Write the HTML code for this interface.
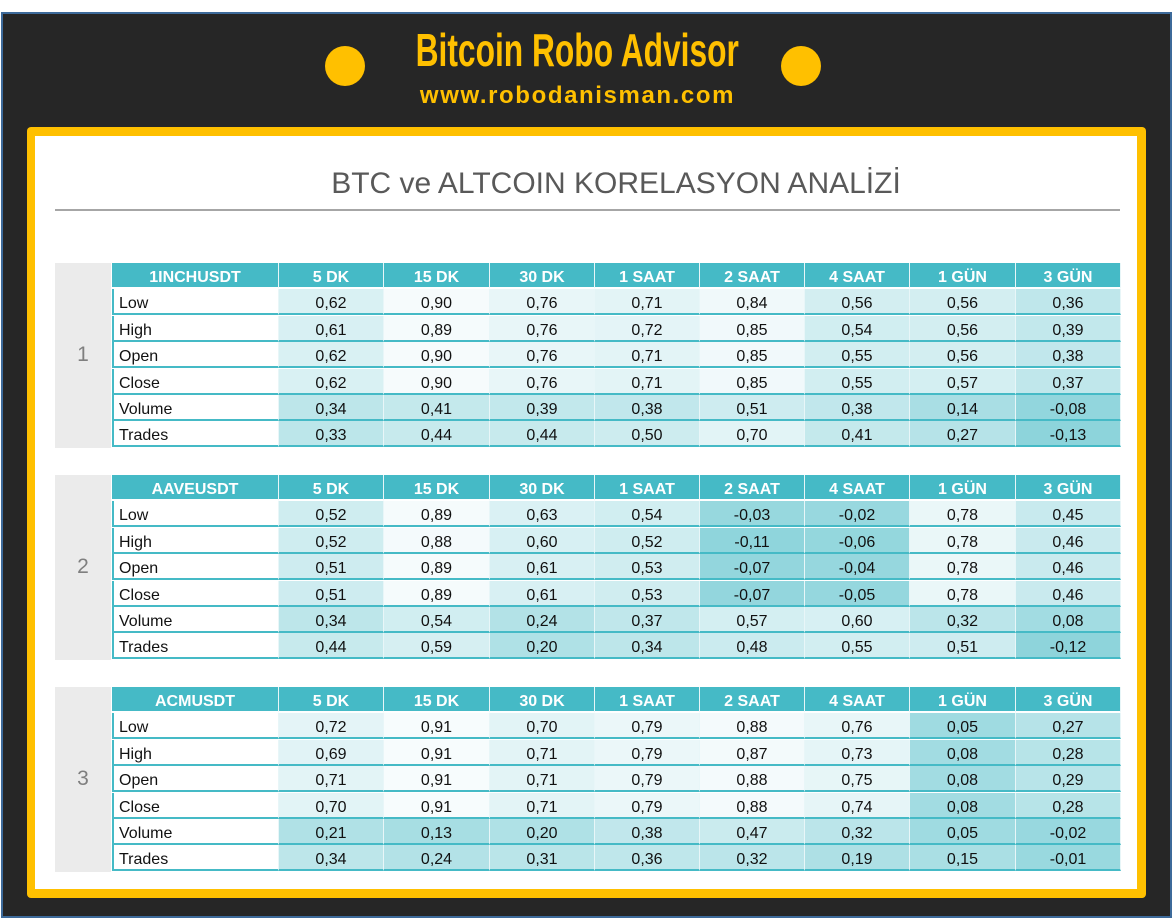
<!DOCTYPE html>
<html><head><meta charset="utf-8">
<style>
*{margin:0;padding:0;box-sizing:border-box}
body{width:1173px;height:919px;background:#fff;position:relative;overflow:hidden;font-family:"Liberation Sans",sans-serif}
#outer{position:absolute;left:1px;top:12px;width:1171px;height:906px;background:#262626;border:2px solid #3d6a9a}
.dot{position:absolute;width:40px;height:40px;border-radius:50%;background:#ffc000}
#brandwrap{position:absolute;left:0;width:1155px;top:24px;text-align:center}
#brand{display:inline-block;color:#ffc000;font-weight:bold;font-size:46px;line-height:52px;transform:scaleX(0.69);transform-origin:center}
#url{position:absolute;left:0;width:1155px;top:81px;text-align:center;color:#ffc000;font-weight:bold;font-size:24px;line-height:30px;letter-spacing:1.6px}
#frame{position:absolute;left:27px;top:127px;width:1119px;height:771px;background:#ffc000;border-radius:4px}
#panel{position:absolute;left:35px;top:136px;width:1102px;height:753px;background:#fff}
#title{position:absolute;left:71px;width:1090px;top:165px;text-align:center;font-size:30px;color:#595959;line-height:38px}
#rule{position:absolute;left:55px;top:209px;width:1065px;height:2px;background:#a6a6a6}
.idx{position:absolute;left:55px;width:56px;background:#ebebeb;color:#7f7f7f;font-size:21px;display:flex;align-items:center;justify-content:center}
.cell{position:absolute;height:26px;display:flex;align-items:center;justify-content:center;font-size:16px;color:#111;border-bottom:2px solid #45bac6;border-right:1px solid #e8f6f8;padding-top:6px}
.hdr{background:#45bac6;color:#fff;font-weight:bold;border-bottom:2px solid #fff}
.name{justify-content:flex-start;padding-left:5px;background:#fff;border-left:2px solid #45bac6}
</style></head><body>
<div id="outer"></div>
<div class="dot" style="left:325px;top:46px"></div>
<div class="dot" style="left:781px;top:46px"></div>
<div id="brandwrap"><span id="brand">Bitcoin Robo Advisor</span></div>
<div id="url">www.robodanisman.com</div>
<div id="frame"></div>
<div id="panel"></div>
<div id="title">BTC ve ALTCOIN KORELASYON ANALİZİ</div>
<div id="rule"></div>
<div id="tables"></div>
<script>
const columns=["5 DK","15 DK","30 DK","1 SAAT","2 SAAT","4 SAAT","1 GÜN","3 GÜN"];
const rowLabels=["Low","High","Open","Close","Volume","Trades"];
const coins=["1INCHUSDT","AAVEUSDT","ACMUSDT"];
const values1INCH=[
[0.62,0.90,0.76,0.71,0.84,0.56,0.56,0.36],
[0.61,0.89,0.76,0.72,0.85,0.54,0.56,0.39],
[0.62,0.90,0.76,0.71,0.85,0.55,0.56,0.38],
[0.62,0.90,0.76,0.71,0.85,0.55,0.57,0.37],
[0.34,0.41,0.39,0.38,0.51,0.38,0.14,-0.08],
[0.33,0.44,0.44,0.50,0.70,0.41,0.27,-0.13]];
const valuesAAVE=[
[0.52,0.89,0.63,0.54,-0.03,-0.02,0.78,0.45],
[0.52,0.88,0.60,0.52,-0.11,-0.06,0.78,0.46],
[0.51,0.89,0.61,0.53,-0.07,-0.04,0.78,0.46],
[0.51,0.89,0.61,0.53,-0.07,-0.05,0.78,0.46],
[0.34,0.54,0.24,0.37,0.57,0.60,0.32,0.08],
[0.44,0.59,0.20,0.34,0.48,0.55,0.51,-0.12]];
const valuesACM=[
[0.72,0.91,0.70,0.79,0.88,0.76,0.05,0.27],
[0.69,0.91,0.71,0.79,0.87,0.73,0.08,0.28],
[0.71,0.91,0.71,0.79,0.88,0.75,0.08,0.29],
[0.70,0.91,0.71,0.79,0.88,0.74,0.08,0.28],
[0.21,0.13,0.20,0.38,0.47,0.32,0.05,-0.02],
[0.34,0.24,0.31,0.36,0.32,0.19,0.15,-0.01]];
const allValues=[values1INCH,valuesAAVE,valuesACM];
const tops=[263,475,687];
const colX=[279,384,490,595,700,805,910,1016,1121];
const rowH=26.4;
function colorFor(v){
  const t=Math.max(0,Math.min(1,(v+0.13)/(0.92+0.13)));
  const a=[141,212,219],b=[248,252,253];
  return 'rgb('+a.map((c,i)=>Math.round(c+(b[i]-c)*t)).join(',')+')';
}
function fmt(v){return v.toFixed(2).replace('.',',');}
const root=document.getElementById('tables');
function mk(cls,x,y,w,txt,name){
  const d=document.createElement('div');d.className='cell '+cls;
  d.style.left=x+'px';d.style.top=y+'px';d.style.width=w+'px';d.textContent=txt;
  
  
  root.appendChild(d);return d;
}
coins.forEach((coin,t)=>{
  const top=tops[t];
  const idx=document.createElement('div');idx.className='idx';
  idx.style.top=top+'px';idx.style.height=(rowH*7)+'px';idx.textContent=t+1;
  
  
  root.appendChild(idx);
  mk('hdr',112,top,167,coin,'coin-header');
  columns.forEach((c,j)=>mk('hdr',colX[j],top,colX[j+1]-colX[j],c,'column-header'));
  rowLabels.forEach((r,i)=>{
    const y=top+rowH*(i+1);
    mk('name',112,y,167,r,'row-label');
    allValues[t][i].forEach((v,j)=>{
      const d=mk('',colX[j],y,colX[j+1]-colX[j],fmt(v),'value-cell');
      d.style.background=colorFor(v);
    });
  });
});
</script>
</body></html>
